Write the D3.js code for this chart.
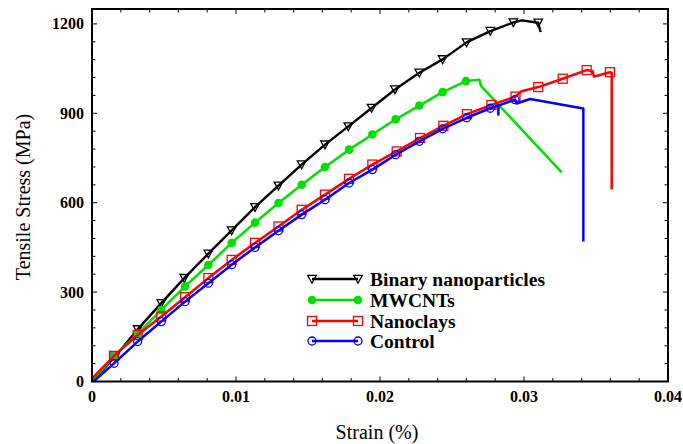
<!DOCTYPE html>
<html><head><meta charset="utf-8">
<script src="https://cdn.jsdelivr.net/npm/d3@7"></script>
<style>body{margin:0;background:#fff}svg{display:block}</style>
</head><body><svg id="c" width="683" height="444"></svg>
<script>
// ---- data (strain, stress MPa); mark = 1 where a marker sits ----
const binaryStrain = [0, 0.00160, 0.00317, 0.00481, 0.00641, 0.00808, 0.00970, 0.01132, 0.01295, 0.01456, 0.01618, 0.01780, 0.01942, 0.02104, 0.02273, 0.02435, 0.02601, 0.02766, 0.02926, 0.02986, 0.03099, 0.03115];
const binaryStress = [0, 83, 175, 263, 347, 429, 507, 585, 657, 728, 795, 856, 918, 980, 1036, 1081, 1138, 1176, 1205, 1212, 1204, 1173];
const binaryMark   = [0, 1, 1, 1, 1, 1, 1, 1, 1, 1, 1, 1, 1, 1, 1, 1, 1, 1, 1, 0, 1, 0];

const mwcntStrain = [0, 0.00148, 0.00317, 0.00481, 0.00646, 0.00808, 0.00970, 0.01132, 0.01295, 0.01456, 0.01618, 0.01785, 0.01947, 0.02109, 0.02273, 0.02435, 0.02597, 0.02690, 0.02701, 0.03262];
const mwcntStress = [0, 83, 160, 240, 319, 391, 465, 533, 599, 660, 720, 778, 829, 880, 926, 971, 1008, 1013, 992, 702];
const mwcntMark   = [0, 1, 1, 1, 1, 1, 1, 1, 1, 1, 1, 1, 1, 1, 1, 1, 1, 0, 0, 0];

const clayStrain = [0, 0.00153, 0.00317, 0.00481, 0.00646, 0.00808, 0.00970, 0.01132, 0.01295, 0.01456, 0.01618, 0.01785, 0.01947, 0.02116, 0.02278, 0.02440, 0.02604, 0.02774, 0.02941, 0.02979, 0.03099, 0.03269, 0.03435, 0.03477, 0.03486, 0.03597, 0.03609, 0.03609];
const clayStress = [10, 86, 156, 218, 283, 347, 408, 465, 520, 576, 627, 680, 728, 772, 817, 858, 897, 928, 956, 973, 988, 1016, 1045, 1041, 1023, 1038, 1036, 644];
const clayMark   = [0, 1, 1, 1, 1, 1, 1, 1, 1, 1, 1, 1, 1, 1, 1, 1, 1, 1, 1, 0, 1, 1, 1, 0, 0, 1, 0, 0];

const controlStrain = [0.0001, 0.00153, 0.00317, 0.00481, 0.00646, 0.00808, 0.00970, 0.01132, 0.01295, 0.01456, 0.01618, 0.01785, 0.01947, 0.02109, 0.02273, 0.02435, 0.02602, 0.02766, 0.02822, 0.02822, 0.02823, 0.02938, 0.02949, 0.03042, 0.03412, 0.03412];
const controlStress = [0, 61, 134, 201, 268, 330, 392, 450, 506, 560, 610, 666, 711, 761, 806, 848, 885, 917, 926, 896, 926, 946, 933, 948, 916, 470];
const controlMark   = [0, 1, 1, 1, 1, 1, 1, 1, 1, 1, 1, 1, 1, 1, 1, 1, 1, 1, 0, 0, 0, 1, 0, 0, 0, 0];

const seriesNames = ["Binary nanoparticles", "MWCNTs", "Nanoclays", "Control"];
const xTicks = [0, 0.01, 0.02, 0.03, 0.04];
const yTicks = [0, 300, 600, 900, 1200];

// ---- layout ----
const svg = d3.select("#c");
const L = 92, R = 668, T = 9, B = 381.5;
const x = d3.scaleLinear().domain([0, 0.04]).range([L, R]);
const y = d3.scaleLinear().domain([0, 1250]).range([B, T]);
const serif = "'Liberation Serif','Times New Roman',serif";

const styles = [
  {color: "#000000", w: 2.4, marker: "tri"},
  {color: "#00e000", w: 2.5, marker: "dot"},
  {color: "#ff0000", w: 2.5, marker: "sq"},
  {color: "#0000ff", w: 2.5, marker: "circ"}
];
const data = [
  [binaryStrain, binaryStress, binaryMark],
  [mwcntStrain, mwcntStress, mwcntMark],
  [clayStrain, clayStress, clayMark],
  [controlStrain, controlStress, controlMark]
];

function drawMarker(g, kind, color, cx, cy) {
  if (kind === "tri") {
    g.append("path").attr("d", `M${cx-4.3},${cy-3.6}L${cx+4.3},${cy-3.6}L${cx},${cy+4.2}Z`)
      .attr("fill", "none").attr("stroke", color).attr("stroke-width", 1.3);
  } else if (kind === "dot") {
    g.append("circle").attr("cx", cx).attr("cy", cy).attr("r", 4.3).attr("fill", color);
  } else if (kind === "sq") {
    g.append("rect").attr("x", cx-4.5).attr("y", cy-4.5).attr("width", 9).attr("height", 9)
      .attr("fill", "none").attr("stroke", color).attr("stroke-width", 1.3);
  } else {
    g.append("circle").attr("cx", cx).attr("cy", cy).attr("r", 4)
      .attr("fill", "none").attr("stroke", color).attr("stroke-width", 1.3);
  }
}

// ---- curves ----
const line = d3.line().x(d => x(d[0])).y(d => y(d[1]));
const plot = svg.append("g");
data.forEach(([sx, sy, mk], i) => {
  const st = styles[i];
  const pts = sx.map((v, j) => [v, sy[j], mk[j]]);
  plot.append("path").datum(pts).attr("d", line).attr("fill", "none")
    .attr("stroke", st.color).attr("stroke-width", st.w).attr("stroke-linejoin", "round");
  const mg = plot.append("g");
  pts.filter(p => p[2]).forEach(p => drawMarker(mg, st.marker, st.color, x(p[0]), y(p[1])));
});

// ---- frame & ticks ----
svg.append("rect").attr("x", L).attr("y", T).attr("width", R - L).attr("height", B - T)
  .attr("fill", "none").attr("stroke", "#000").attr("stroke-width", 2);

const tk = svg.append("g").attr("stroke", "#000").attr("stroke-width", 1);
const xMinor = d3.range(0, 0.04001, 0.002);
xMinor.forEach((v, i) => {
  const len = (i % 5 === 0) ? 5 : 3.5;
  tk.append("line").attr("x1", x(v)).attr("x2", x(v)).attr("y1", B).attr("y2", B - len);
  tk.append("line").attr("x1", x(v)).attr("x2", x(v)).attr("y1", T).attr("y2", T + len);
});
const yMinor = d3.range(0, 1250, 60);
yMinor.forEach((v, i) => {
  const len = (i % 5 === 0) ? 5 : 3.5;
  tk.append("line").attr("x1", L).attr("x2", L + len).attr("y1", y(v)).attr("y2", y(v));
  tk.append("line").attr("x1", R).attr("x2", R - len).attr("y1", y(v)).attr("y2", y(v));
});

// tick labels
svg.append("g").selectAll("text").data(xTicks).join("text")
  .attr("x", d => x(d)).attr("y", 402).attr("text-anchor", "middle")
  .attr("font-family", serif).attr("font-weight", "bold").attr("font-size", 16)
  .text(d => d === 0 ? "0" : d3.format(".2f")(d));
svg.append("g").selectAll("text").data(yTicks).join("text")
  .attr("x", 84).attr("y", d => y(d) + 5.5).attr("text-anchor", "end")
  .attr("font-family", serif).attr("font-weight", "bold").attr("font-size", 16)
  .text(d => d);

// axis titles
svg.append("text").attr("x", 377).attr("y", 439).attr("text-anchor", "middle")
  .attr("font-family", serif).attr("font-size", 20).text("Strain (%)");
svg.append("text").attr("transform", "translate(30,197) rotate(-90)").attr("text-anchor", "middle")
  .attr("font-family", serif).attr("font-size", 20).text("Tensile Stress (MPa)");

// ---- legend ----
const lg = svg.append("g");
const rowY = [279, 300, 321, 341];
seriesNames.forEach((name, i) => {
  const st = styles[i], yy = rowY[i];
  lg.append("line").attr("x1", 312).attr("x2", 358).attr("y1", yy).attr("y2", yy)
    .attr("stroke", st.color).attr("stroke-width", st.w);
  drawMarker(lg, st.marker, st.color, 312, yy);
  drawMarker(lg, st.marker, st.color, 358, yy);
  lg.append("text").attr("x", 370).attr("y", yy + 6.5).attr("font-family", serif)
    .attr("font-weight", "bold").attr("font-size", 19.5).text(name);
});
</script></body></html>
